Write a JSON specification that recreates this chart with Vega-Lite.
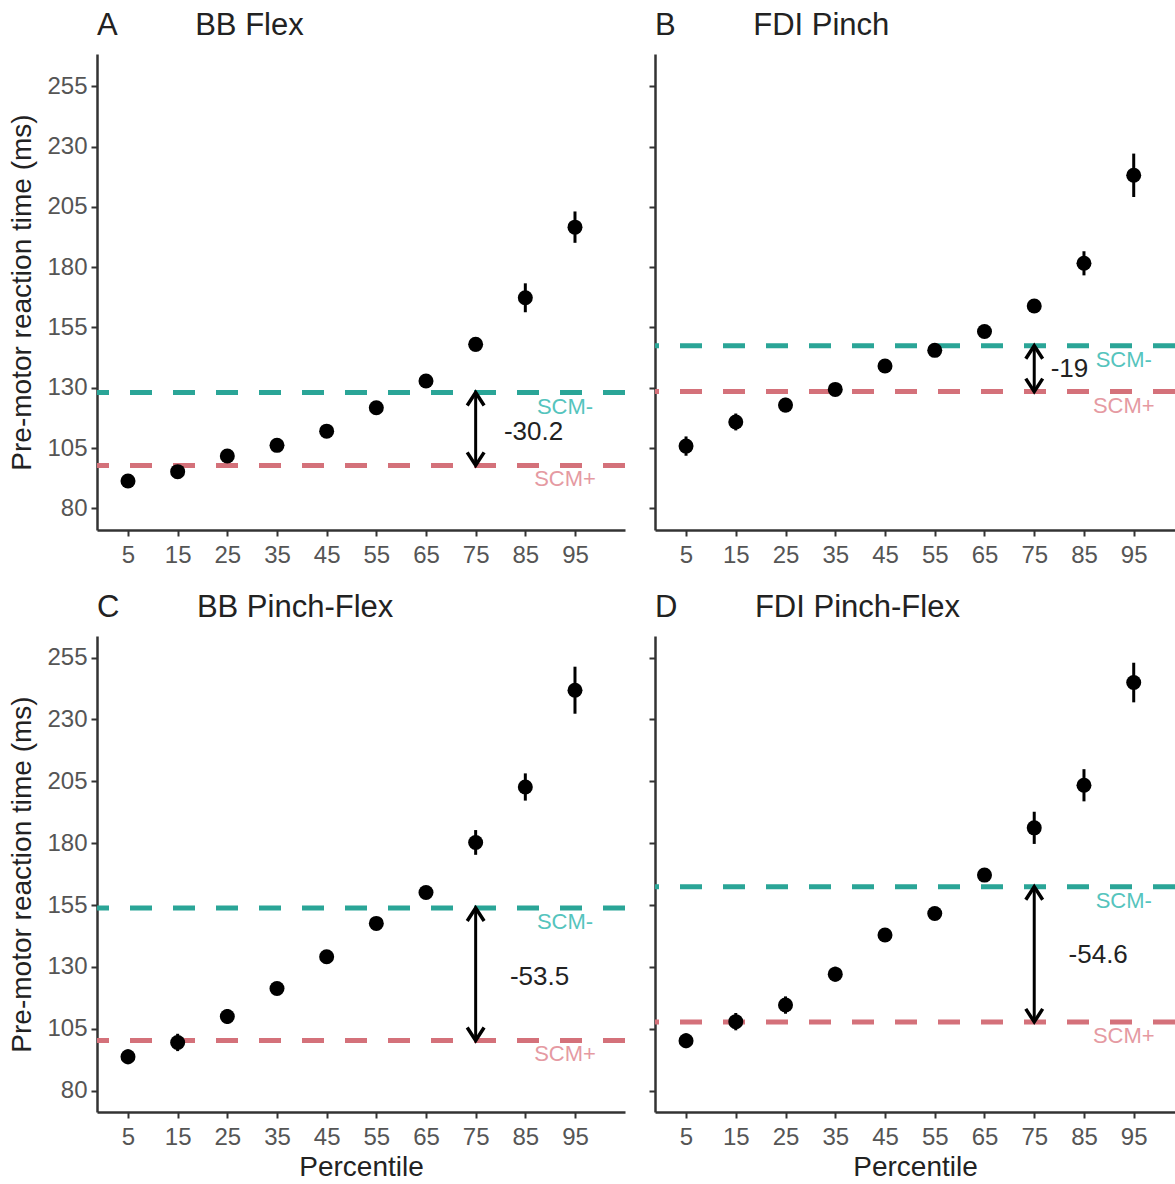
{
  "$schema": "https://vega.github.io/schema/vega-lite/v6.json",
  "padding": {"left": 8, "top": 10, "right": 0, "bottom": 0},
  "background": "white",
  "spacing": 25,
  "datasets": {
    "pts": [
      {"panel": "A", "p": 5, "m": 91.3, "lo": 89.8, "hi": 92.8},
      {"panel": "A", "p": 15, "m": 95.2, "lo": 93.7, "hi": 96.7},
      {"panel": "A", "p": 25, "m": 101.7, "lo": 100.2, "hi": 103.2},
      {"panel": "A", "p": 35, "m": 106.1, "lo": 104.6, "hi": 107.6},
      {"panel": "A", "p": 45, "m": 112.0, "lo": 110.0, "hi": 114.0},
      {"panel": "A", "p": 55, "m": 121.7, "lo": 119.7, "hi": 123.7},
      {"panel": "A", "p": 65, "m": 132.8, "lo": 130.8, "hi": 134.8},
      {"panel": "A", "p": 75, "m": 148.0, "lo": 145.0, "hi": 151.0},
      {"panel": "A", "p": 85, "m": 167.3, "lo": 161.3, "hi": 173.3},
      {"panel": "A", "p": 95, "m": 196.6, "lo": 190.1, "hi": 203.1},
      {"panel": "B", "p": 5, "m": 105.8, "lo": 101.8, "hi": 109.8},
      {"panel": "B", "p": 15, "m": 115.8, "lo": 112.3, "hi": 119.3},
      {"panel": "B", "p": 25, "m": 122.8, "lo": 119.8, "hi": 125.8},
      {"panel": "B", "p": 35, "m": 129.3, "lo": 126.8, "hi": 131.8},
      {"panel": "B", "p": 45, "m": 139.0, "lo": 137.0, "hi": 141.0},
      {"panel": "B", "p": 55, "m": 145.5, "lo": 143.5, "hi": 147.5},
      {"panel": "B", "p": 65, "m": 153.3, "lo": 151.3, "hi": 155.3},
      {"panel": "B", "p": 75, "m": 163.9, "lo": 161.4, "hi": 166.4},
      {"panel": "B", "p": 85, "m": 181.6, "lo": 176.6, "hi": 186.6},
      {"panel": "B", "p": 95, "m": 218.1, "lo": 209.1, "hi": 227.1},
      {"panel": "C", "p": 5, "m": 93.7, "lo": 90.7, "hi": 96.7},
      {"panel": "C", "p": 15, "m": 99.5, "lo": 96.0, "hi": 103.0},
      {"panel": "C", "p": 25, "m": 110.0, "lo": 107.0, "hi": 113.0},
      {"panel": "C", "p": 35, "m": 121.3, "lo": 118.8, "hi": 123.8},
      {"panel": "C", "p": 45, "m": 134.1, "lo": 131.6, "hi": 136.6},
      {"panel": "C", "p": 55, "m": 147.6, "lo": 145.1, "hi": 150.1},
      {"panel": "C", "p": 65, "m": 160.1, "lo": 157.6, "hi": 162.6},
      {"panel": "C", "p": 75, "m": 180.3, "lo": 175.3, "hi": 185.3},
      {"panel": "C", "p": 85, "m": 202.7, "lo": 197.2, "hi": 208.2},
      {"panel": "C", "p": 95, "m": 241.8, "lo": 232.3, "hi": 251.3},
      {"panel": "D", "p": 5, "m": 100.2, "lo": 97.2, "hi": 103.2},
      {"panel": "D", "p": 15, "m": 107.9, "lo": 104.4, "hi": 111.4},
      {"panel": "D", "p": 25, "m": 114.6, "lo": 111.1, "hi": 118.1},
      {"panel": "D", "p": 35, "m": 127.1, "lo": 124.1, "hi": 130.1},
      {"panel": "D", "p": 45, "m": 142.9, "lo": 140.9, "hi": 144.9},
      {"panel": "D", "p": 55, "m": 151.6, "lo": 149.6, "hi": 153.6},
      {"panel": "D", "p": 65, "m": 167.1, "lo": 165.1, "hi": 169.1},
      {"panel": "D", "p": 75, "m": 186.2, "lo": 179.7, "hi": 192.7},
      {"panel": "D", "p": 85, "m": 203.4, "lo": 196.9, "hi": 209.9},
      {"panel": "D", "p": 95, "m": 244.9, "lo": 236.9, "hi": 252.9}
    ],
    "lines": [
      {"panel": "A", "g": "SCM-", "v": 128.0},
      {"panel": "A", "g": "SCM+", "v": 97.8},
      {"panel": "B", "g": "SCM-", "v": 147.4},
      {"panel": "B", "g": "SCM+", "v": 128.4},
      {"panel": "C", "g": "SCM-", "v": 153.8},
      {"panel": "C", "g": "SCM+", "v": 100.3},
      {"panel": "D", "g": "SCM-", "v": 162.4},
      {"panel": "D", "g": "SCM+", "v": 107.8}
    ],
    "arr": [
      {"panel": "A", "p": 75, "lo": 97.8, "hi": 128.0, "lab": "-30.2", "lx": 80.7, "ly": 111.6},
      {"panel": "B", "p": 75, "lo": 128.4, "hi": 147.4, "lab": "-19", "lx": 78.3, "ly": 137.6},
      {"panel": "C", "p": 75, "lo": 100.3, "hi": 153.8, "lab": "-53.5", "lx": 81.9, "ly": 126.0},
      {"panel": "D", "p": 75, "lo": 107.8, "hi": 162.4, "lab": "-54.6", "lx": 81.9, "ly": 134.8}
    ]
  },
  "vconcat": [
    {
      "spacing": 20,
      "hconcat": [
        {
          "width": 528, "height": 476,
          "title": {"text": "A\u00a0\u00a0\u00a0\u00a0\u00a0\u00a0\u00a0\u00a0\u00a0BB Flex"},
          "layer": [
            {"data": {"name": "lines"}, "transform": [{"filter": "datum.panel === 'A'"}],
             "mark": {"type": "rule", "strokeDash": [22, 21], "strokeWidth": 5},
             "encoding": {"y": {"field": "v", "type": "quantitative", "scale": {"domain": [71, 268.4], "nice": false, "zero": false}},
               "stroke": {"field": "g", "type": "nominal", "scale": {"domain": ["SCM-", "SCM+"], "range": ["#2aa597", "#d4717a"]}, "legend": null}}},
            {"data": {"name": "lines"}, "transform": [{"filter": "datum.panel === 'A'"}],
             "mark": {"type": "text", "fontSize": 22, "dy": 14, "align": "center", "baseline": "middle"},
             "encoding": {"x": {"datum": 93, "type": "quantitative", "scale": {"domain": [-1.24, 105.07], "nice": false, "zero": false}},
               "y": {"field": "v", "type": "quantitative"},
               "text": {"field": "g"},
               "fill": {"field": "g", "type": "nominal", "scale": {"domain": ["SCM-", "SCM+"], "range": ["#55c4bd", "#e59aa2"]}, "legend": null}}},
            {"data": {"name": "pts"}, "transform": [{"filter": "datum.panel === 'A'"}],
             "mark": {"type": "rule", "strokeWidth": 3, "color": "black"},
             "encoding": {"x": {"field": "p", "type": "quantitative"}, "y": {"field": "lo", "type": "quantitative"}, "y2": {"field": "hi"}}},
            {"data": {"name": "pts"}, "transform": [{"filter": "datum.panel === 'A'"}],
             "mark": {"type": "point", "shape": "circle", "filled": true, "size": 225, "color": "black", "opacity": 1},
             "encoding": {
               "x": {"field": "p", "type": "quantitative", "scale": {"domain": [-1.24, 105.07], "nice": false, "zero": false},
                 "axis": {"title": null, "values": [5, 15, 25, 35, 45, 55, 65, 75, 85, 95]}},
               "y": {"field": "m", "type": "quantitative", "scale": {"domain": [71, 268.4], "nice": false, "zero": false},
                 "axis": {"title": "Pre-motor reaction time (ms)", "values": [80, 105, 130, 155, 180, 205, 230, 255], "titlePadding": 10}}}},
            {"data": {"name": "arr"}, "transform": [{"filter": "datum.panel === 'A'"}],
             "mark": {"type": "rule", "strokeWidth": 3, "color": "black"},
             "encoding": {"x": {"field": "p", "type": "quantitative"}, "y": {"field": "lo", "type": "quantitative"}, "y2": {"field": "hi"}}},
            {"data": {"name": "arr"}, "transform": [{"filter": "datum.panel === 'A'"}],
             "mark": {"type": "point", "shape": "M -0.65 1 L 0 0 L 0.65 1", "size": 676, "filled": false, "stroke": "black", "strokeWidth": 3.5, "opacity": 1},
             "encoding": {"x": {"field": "p", "type": "quantitative"}, "y": {"field": "hi", "type": "quantitative"}}},
            {"data": {"name": "arr"}, "transform": [{"filter": "datum.panel === 'A'"}],
             "mark": {"type": "point", "shape": "M -0.65 -1 L 0 0 L 0.65 -1", "size": 676, "filled": false, "stroke": "black", "strokeWidth": 3.5, "opacity": 1},
             "encoding": {"x": {"field": "p", "type": "quantitative"}, "y": {"field": "lo", "type": "quantitative"}}},
            {"data": {"name": "arr"}, "transform": [{"filter": "datum.panel === 'A'"}],
             "mark": {"type": "text", "fontSize": 26, "align": "left", "baseline": "middle", "color": "#222"},
             "encoding": {"x": {"field": "lx", "type": "quantitative"}, "y": {"field": "ly", "type": "quantitative"}, "text": {"field": "lab"}}}
          ]
        },
        {
          "width": 520, "height": 476,
          "title": {"text": "B\u00a0\u00a0\u00a0\u00a0\u00a0\u00a0\u00a0\u00a0\u00a0FDI Pinch"},
          "layer": [
            {"data": {"name": "lines"}, "transform": [{"filter": "datum.panel === 'B'"}],
             "mark": {"type": "rule", "strokeDash": [22, 21], "strokeWidth": 5},
             "encoding": {"y": {"field": "v", "type": "quantitative", "scale": {"domain": [71, 268.4], "nice": false, "zero": false}},
               "stroke": {"field": "g", "type": "nominal", "scale": {"domain": ["SCM-", "SCM+"], "range": ["#2aa597", "#d4717a"]}, "legend": null}}},
            {"data": {"name": "lines"}, "transform": [{"filter": "datum.panel === 'B'"}],
             "mark": {"type": "text", "fontSize": 22, "dy": 14, "align": "center", "baseline": "middle"},
             "encoding": {"x": {"datum": 93, "type": "quantitative", "scale": {"domain": [-1.24, 103.3], "nice": false, "zero": false}},
               "y": {"field": "v", "type": "quantitative"},
               "text": {"field": "g"},
               "fill": {"field": "g", "type": "nominal", "scale": {"domain": ["SCM-", "SCM+"], "range": ["#55c4bd", "#e59aa2"]}, "legend": null}}},
            {"data": {"name": "pts"}, "transform": [{"filter": "datum.panel === 'B'"}],
             "mark": {"type": "rule", "strokeWidth": 3, "color": "black"},
             "encoding": {"x": {"field": "p", "type": "quantitative"}, "y": {"field": "lo", "type": "quantitative"}, "y2": {"field": "hi"}}},
            {"data": {"name": "pts"}, "transform": [{"filter": "datum.panel === 'B'"}],
             "mark": {"type": "point", "shape": "circle", "filled": true, "size": 225, "color": "black", "opacity": 1},
             "encoding": {
               "x": {"field": "p", "type": "quantitative", "scale": {"domain": [-1.24, 103.3], "nice": false, "zero": false},
                 "axis": {"title": null, "values": [5, 15, 25, 35, 45, 55, 65, 75, 85, 95]}},
               "y": {"field": "m", "type": "quantitative", "scale": {"domain": [71, 268.4], "nice": false, "zero": false},
                 "axis": {"title": null, "labels": false, "values": [80, 105, 130, 155, 180, 205, 230, 255]}}}},
            {"data": {"name": "arr"}, "transform": [{"filter": "datum.panel === 'B'"}],
             "mark": {"type": "rule", "strokeWidth": 3, "color": "black"},
             "encoding": {"x": {"field": "p", "type": "quantitative"}, "y": {"field": "lo", "type": "quantitative"}, "y2": {"field": "hi"}}},
            {"data": {"name": "arr"}, "transform": [{"filter": "datum.panel === 'B'"}],
             "mark": {"type": "point", "shape": "M -0.65 1 L 0 0 L 0.65 1", "size": 676, "filled": false, "stroke": "black", "strokeWidth": 3.5, "opacity": 1},
             "encoding": {"x": {"field": "p", "type": "quantitative"}, "y": {"field": "hi", "type": "quantitative"}}},
            {"data": {"name": "arr"}, "transform": [{"filter": "datum.panel === 'B'"}],
             "mark": {"type": "point", "shape": "M -0.65 -1 L 0 0 L 0.65 -1", "size": 676, "filled": false, "stroke": "black", "strokeWidth": 3.5, "opacity": 1},
             "encoding": {"x": {"field": "p", "type": "quantitative"}, "y": {"field": "lo", "type": "quantitative"}}},
            {"data": {"name": "arr"}, "transform": [{"filter": "datum.panel === 'B'"}],
             "mark": {"type": "text", "fontSize": 26, "align": "left", "baseline": "middle", "color": "#222"},
             "encoding": {"x": {"field": "lx", "type": "quantitative"}, "y": {"field": "ly", "type": "quantitative"}, "text": {"field": "lab"}}}
          ]
        }
      ]
    },
    {
      "spacing": 20,
      "hconcat": [
        {
          "width": 528, "height": 476,
          "title": {"text": "C\u00a0\u00a0\u00a0\u00a0\u00a0\u00a0\u00a0\u00a0\u00a0BB Pinch-Flex"},
          "layer": [
            {"data": {"name": "lines"}, "transform": [{"filter": "datum.panel === 'C'"}],
             "mark": {"type": "rule", "strokeDash": [22, 21], "strokeWidth": 5},
             "encoding": {"y": {"field": "v", "type": "quantitative", "scale": {"domain": [71.4, 263.7], "nice": false, "zero": false}},
               "stroke": {"field": "g", "type": "nominal", "scale": {"domain": ["SCM-", "SCM+"], "range": ["#2aa597", "#d4717a"]}, "legend": null}}},
            {"data": {"name": "lines"}, "transform": [{"filter": "datum.panel === 'C'"}],
             "mark": {"type": "text", "fontSize": 22, "dy": 14, "align": "center", "baseline": "middle"},
             "encoding": {"x": {"datum": 93, "type": "quantitative", "scale": {"domain": [-1.24, 105.07], "nice": false, "zero": false}},
               "y": {"field": "v", "type": "quantitative"},
               "text": {"field": "g"},
               "fill": {"field": "g", "type": "nominal", "scale": {"domain": ["SCM-", "SCM+"], "range": ["#55c4bd", "#e59aa2"]}, "legend": null}}},
            {"data": {"name": "pts"}, "transform": [{"filter": "datum.panel === 'C'"}],
             "mark": {"type": "rule", "strokeWidth": 3, "color": "black"},
             "encoding": {"x": {"field": "p", "type": "quantitative"}, "y": {"field": "lo", "type": "quantitative"}, "y2": {"field": "hi"}}},
            {"data": {"name": "pts"}, "transform": [{"filter": "datum.panel === 'C'"}],
             "mark": {"type": "point", "shape": "circle", "filled": true, "size": 225, "color": "black", "opacity": 1},
             "encoding": {
               "x": {"field": "p", "type": "quantitative", "scale": {"domain": [-1.24, 105.07], "nice": false, "zero": false},
                 "axis": {"title": "Percentile", "values": [5, 15, 25, 35, 45, 55, 65, 75, 85, 95]}},
               "y": {"field": "m", "type": "quantitative", "scale": {"domain": [71.4, 263.7], "nice": false, "zero": false},
                 "axis": {"title": "Pre-motor reaction time (ms)", "values": [80, 105, 130, 155, 180, 205, 230, 255], "titlePadding": 10}}}},
            {"data": {"name": "arr"}, "transform": [{"filter": "datum.panel === 'C'"}],
             "mark": {"type": "rule", "strokeWidth": 3, "color": "black"},
             "encoding": {"x": {"field": "p", "type": "quantitative"}, "y": {"field": "lo", "type": "quantitative"}, "y2": {"field": "hi"}}},
            {"data": {"name": "arr"}, "transform": [{"filter": "datum.panel === 'C'"}],
             "mark": {"type": "point", "shape": "M -0.65 1 L 0 0 L 0.65 1", "size": 676, "filled": false, "stroke": "black", "strokeWidth": 3.5, "opacity": 1},
             "encoding": {"x": {"field": "p", "type": "quantitative"}, "y": {"field": "hi", "type": "quantitative"}}},
            {"data": {"name": "arr"}, "transform": [{"filter": "datum.panel === 'C'"}],
             "mark": {"type": "point", "shape": "M -0.65 -1 L 0 0 L 0.65 -1", "size": 676, "filled": false, "stroke": "black", "strokeWidth": 3.5, "opacity": 1},
             "encoding": {"x": {"field": "p", "type": "quantitative"}, "y": {"field": "lo", "type": "quantitative"}}},
            {"data": {"name": "arr"}, "transform": [{"filter": "datum.panel === 'C'"}],
             "mark": {"type": "text", "fontSize": 26, "align": "left", "baseline": "middle", "color": "#222"},
             "encoding": {"x": {"field": "lx", "type": "quantitative"}, "y": {"field": "ly", "type": "quantitative"}, "text": {"field": "lab"}}}
          ]
        },
        {
          "width": 520, "height": 476,
          "title": {"text": "D\u00a0\u00a0\u00a0\u00a0\u00a0\u00a0\u00a0\u00a0\u00a0FDI Pinch-Flex"},
          "layer": [
            {"data": {"name": "lines"}, "transform": [{"filter": "datum.panel === 'D'"}],
             "mark": {"type": "rule", "strokeDash": [22, 21], "strokeWidth": 5},
             "encoding": {"y": {"field": "v", "type": "quantitative", "scale": {"domain": [71.4, 263.7], "nice": false, "zero": false}},
               "stroke": {"field": "g", "type": "nominal", "scale": {"domain": ["SCM-", "SCM+"], "range": ["#2aa597", "#d4717a"]}, "legend": null}}},
            {"data": {"name": "lines"}, "transform": [{"filter": "datum.panel === 'D'"}],
             "mark": {"type": "text", "fontSize": 22, "dy": 14, "align": "center", "baseline": "middle"},
             "encoding": {"x": {"datum": 93, "type": "quantitative", "scale": {"domain": [-1.24, 103.3], "nice": false, "zero": false}},
               "y": {"field": "v", "type": "quantitative"},
               "text": {"field": "g"},
               "fill": {"field": "g", "type": "nominal", "scale": {"domain": ["SCM-", "SCM+"], "range": ["#55c4bd", "#e59aa2"]}, "legend": null}}},
            {"data": {"name": "pts"}, "transform": [{"filter": "datum.panel === 'D'"}],
             "mark": {"type": "rule", "strokeWidth": 3, "color": "black"},
             "encoding": {"x": {"field": "p", "type": "quantitative"}, "y": {"field": "lo", "type": "quantitative"}, "y2": {"field": "hi"}}},
            {"data": {"name": "pts"}, "transform": [{"filter": "datum.panel === 'D'"}],
             "mark": {"type": "point", "shape": "circle", "filled": true, "size": 225, "color": "black", "opacity": 1},
             "encoding": {
               "x": {"field": "p", "type": "quantitative", "scale": {"domain": [-1.24, 103.3], "nice": false, "zero": false},
                 "axis": {"title": "Percentile", "values": [5, 15, 25, 35, 45, 55, 65, 75, 85, 95]}},
               "y": {"field": "m", "type": "quantitative", "scale": {"domain": [71.4, 263.7], "nice": false, "zero": false},
                 "axis": {"title": null, "labels": false, "values": [80, 105, 130, 155, 180, 205, 230, 255]}}}},
            {"data": {"name": "arr"}, "transform": [{"filter": "datum.panel === 'D'"}],
             "mark": {"type": "rule", "strokeWidth": 3, "color": "black"},
             "encoding": {"x": {"field": "p", "type": "quantitative"}, "y": {"field": "lo", "type": "quantitative"}, "y2": {"field": "hi"}}},
            {"data": {"name": "arr"}, "transform": [{"filter": "datum.panel === 'D'"}],
             "mark": {"type": "point", "shape": "M -0.65 1 L 0 0 L 0.65 1", "size": 676, "filled": false, "stroke": "black", "strokeWidth": 3.5, "opacity": 1},
             "encoding": {"x": {"field": "p", "type": "quantitative"}, "y": {"field": "hi", "type": "quantitative"}}},
            {"data": {"name": "arr"}, "transform": [{"filter": "datum.panel === 'D'"}],
             "mark": {"type": "point", "shape": "M -0.65 -1 L 0 0 L 0.65 -1", "size": 676, "filled": false, "stroke": "black", "strokeWidth": 3.5, "opacity": 1},
             "encoding": {"x": {"field": "p", "type": "quantitative"}, "y": {"field": "lo", "type": "quantitative"}}},
            {"data": {"name": "arr"}, "transform": [{"filter": "datum.panel === 'D'"}],
             "mark": {"type": "text", "fontSize": 26, "align": "left", "baseline": "middle", "color": "#222"},
             "encoding": {"x": {"field": "lx", "type": "quantitative"}, "y": {"field": "ly", "type": "quantitative"}, "text": {"field": "lab"}}}
          ]
        }
      ]
    }
  ],
  "config": {
    "view": {"stroke": null},
    "font": "Liberation Sans",
    "axis": {"grid": false, "domainColor": "#333333", "domainWidth": 2.5, "tickColor": "#333333", "tickWidth": 2, "tickSize": 6,
      "labelColor": "#555555", "labelFontSize": 24, "labelPadding": 4, "titleFontSize": 28, "titleColor": "#222222", "titleFontWeight": "normal"},
    "axisX": {"titlePadding": 4, "labelPadding": 7},
    "title": {"anchor": "start", "frame": "group", "fontSize": 31, "fontWeight": "normal", "color": "#222222", "offset": 12}
  }
}
